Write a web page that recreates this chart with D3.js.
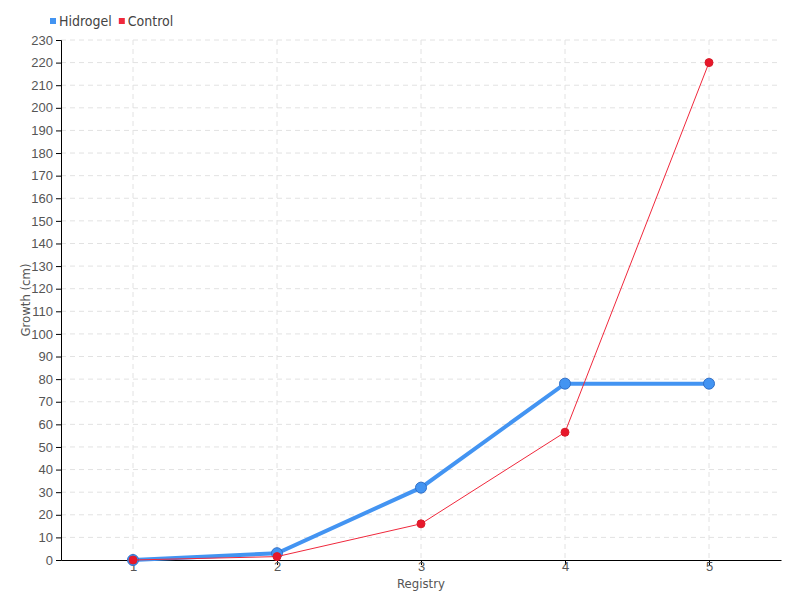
<!DOCTYPE html>
<html>
<head>
<meta charset="utf-8">
<script src="https://cdn.jsdelivr.net/npm/d3@7"></script>
<style>
  body { margin: 0; background: #fff; }
  svg { font-family: "DejaVu Sans Condensed", "Liberation Sans Narrow", sans-serif; font-stretch: condensed; }
  .grid line { stroke: #e2e2e2; stroke-dasharray: 5,4; }
  .tick text { fill: #555; font-size: 13px; }
</style>
</head>
<body>
<script>
"use strict";

// chart data
const registries = ["1", "2", "3", "4", "5"];
const hidrogel = [0, 3, 32, 78, 78];
const control = [0, 1.5, 16, 56.5, 220];
const yTicks = d3.range(0, 231, 10);

const w = 800;
const h = 600;
const margin = { top: 40, right: 19, bottom: 40, left: 61 };
const innerW = w - margin.left - margin.right;
const innerH = h - margin.top - margin.bottom;

const svg = d3.select("body").append("svg").attr("width", w).attr("height", h);
const g = svg.append("g").attr("transform", `translate(${margin.left},${margin.top})`);

const x = d3.scalePoint().domain(registries).range([0, innerW]).padding(0.5);
const y = d3.scaleLinear().domain([0, 230]).range([innerH, 0]);

//grid lines
const grid = g.append("g").attr("class", "grid");
grid.selectAll(".h").data(yTicks.slice(1)).enter().append("line")
  .attr("x1", 0).attr("x2", innerW)
  .attr("y1", (d) => y(d)).attr("y2", (d) => y(d));
grid.selectAll(".v").data(registries).enter().append("line")
  .attr("x1", (d) => x(d)).attr("x2", (d) => x(d))
  .attr("y1", 0).attr("y2", innerH);

//axes
const yAxis = d3.axisLeft(y).tickValues(yTicks).tickSize(5).tickPadding(3);
g.append("g").call(yAxis)
  .call((a) => a.select(".domain").attr("stroke", "#000"))
  .call((a) => a.selectAll(".tick line").attr("stroke", "#000"));

const xAxis = d3.axisBottom(x).tickSize(5).tickPadding(-3).tickSizeOuter(0);
g.append("g").attr("transform", `translate(0,${innerH})`).call(xAxis)
  .call((a) => a.select(".domain").attr("stroke", "#000"))
  .call((a) => a.selectAll(".tick line").attr("stroke", "#000"));

//axis titles
svg.append("text").attr("x", margin.left + innerW / 2).attr("y", 588)
  .attr("text-anchor", "middle").attr("fill", "#555").attr("font-size", 13).text("Registry");
svg.append("text").attr("transform", `translate(30,${margin.top + innerH / 2}) rotate(-90)`)
  .attr("text-anchor", "middle").attr("fill", "#555").attr("font-size", 13).text("Growth (cm)");

//series
const series = [
  { name: "Hidrogel", values: hidrogel, color: "#4394f2", fill: "#4394f2", stroke: "#2f6fc8", width: 4, r: 5.5 },
  { name: "Control", values: control, color: "#f0283c", fill: "#e8172b", stroke: "#d81e2a", width: 1, r: 4 },
];

const line = d3.line().x((d, i) => x(registries[i])).y((d) => y(d));

series.forEach((s) => {
  g.append("path").datum(s.values)
    .attr("fill", "none").attr("stroke", s.color).attr("stroke-width", s.width)
    .attr("d", line);
  g.selectAll(null).data(s.values).enter().append("circle")
    .attr("cx", (d, i) => x(registries[i])).attr("cy", (d) => y(d))
    .attr("r", s.r).attr("fill", s.fill)
    .attr("stroke", s.stroke).attr("stroke-width", 1);
});

//legend
const legend = svg.append("g").attr("transform", "translate(50,21)");
let lx = 0;
series.forEach((s) => {
  const item = legend.append("g").attr("transform", `translate(${lx},0)`);
  item.append("rect").attr("x", 0).attr("y", -3).attr("width", 6).attr("height", 6).attr("fill", s.color);
  const t = item.append("text").attr("x", 9).attr("y", 5).attr("font-size", 14).attr("fill", "#444").text(s.name);
  lx += 9 + t.node().getComputedTextLength() + 7;
});
</script>
</body>
</html>
